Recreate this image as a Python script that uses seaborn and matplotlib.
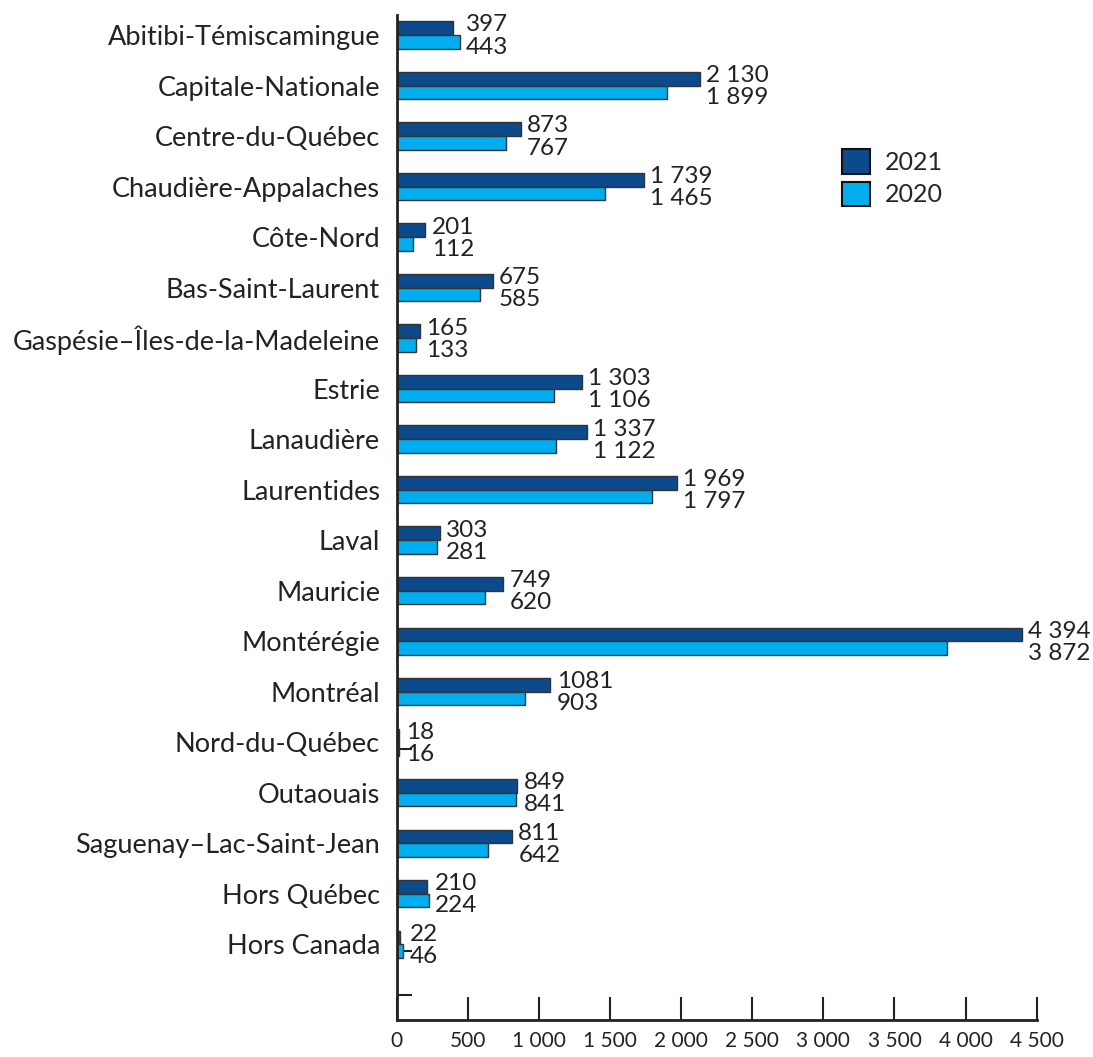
import pandas as pd
import matplotlib.pyplot as plt
import seaborn as sns
from matplotlib.patches import Patch

sns.set_theme(style="white")
plt.rcParams['font.family'] = ['Lato', 'DejaVu Sans']

# Data
regions = [
    "Abitibi-Témiscamingue", "Capitale-Nationale", "Centre-du-Québec",
    "Chaudière-Appalaches", "Côte-Nord", "Bas-Saint-Laurent",
    "Gaspésie–Îles-de-la-Madeleine", "Estrie", "Lanaudière", "Laurentides",
    "Laval", "Mauricie", "Montérégie", "Montréal", "Nord-du-Québec",
    "Outaouais", "Saguenay–Lac-Saint-Jean", "Hors Québec", "Hors Canada",
]
values_2021 = [397, 2130, 873, 1739, 201, 675, 165, 1303, 1337, 1969,
               303, 749, 4394, 1081, 18, 849, 811, 210, 22]
values_2020 = [443, 1899, 767, 1465, 112, 585, 133, 1106, 1122, 1797,
               281, 620, 3872, 903, 16, 841, 642, 224, 46]
labels_2021 = ["397", "2 130", "873", "1 739", "201", "675", "165", "1 303",
               "1 337", "1 969", "303", "749", "4 394", "1081", "18", "849",
               "811", "210", "22"]
labels_2020 = ["443", "1 899", "767", "1 465", "112", "585", "133", "1 106",
               "1 122", "1 797", "281", "620", "3 872", "903", "16", "841",
               "642", "224", "46"]
years = ["2021", "2020"]
colors = {"2021": "#0d4a8c", "2020": "#00aeef"}
xticks = [0, 500, 1000, 1500, 2000, 2500, 3000, 3500, 4000, 4500]
xtick_labels = ["0", "500", "1 000", "1 500", "2 000", "2 500", "3 000",
                "3 500", "4 000", "4 500"]

df = pd.DataFrame({
    "region": regions * 2,
    "value": values_2021 + values_2020,
    "year": ["2021"] * len(regions) + ["2020"] * len(regions),
})

fig = plt.figure(figsize=(10.93, 10.57), dpi=100)
ax = fig.add_axes([0.363, 0.035, 0.5855, 0.951])

sns.barplot(data=df, y="region", x="value", hue="year", hue_order=years,
            order=regions, palette=colors, saturation=1, orient="h",
            width=0.54, edgecolor="#333333", linewidth=1, legend=False, ax=ax)

# value labels, two stacked lines right of the longer bar
for i, (a, b) in enumerate(zip(values_2021, values_2020)):
    x = max(a, b)
    ax.annotate(labels_2021[i], (x, i - 0.07), xytext=(4.5, 0),
                textcoords="offset points", va="baseline", ha="left",
                fontsize=17.5, color="#222222")
    ax.annotate(labels_2020[i], (x, i + 0.37), xytext=(4.5, 0),
                textcoords="offset points", va="baseline", ha="left",
                fontsize=17.5, color="#222222")

ax.set_xlim(0, 4500)
ax.set_ylim(19.5, -0.4)
ax.set_xticks(xticks)
ax.set_xticklabels(xtick_labels, fontsize=15)
ax.set_yticks(range(len(regions)))
ax.set_yticklabels(regions, fontsize=19.5, color="#222222")
ax.set_yticks([i + 0.14 for i in range(len(regions))] + [19], minor=True)
ax.tick_params(axis="y", which="major", left=False, length=0, pad=12)
ax.tick_params(axis="y", which="minor", left=True, direction="in",
               length=11, width=1.5, color="#222222")
ax.tick_params(axis="x", bottom=True, direction="in", length=16.5,
               width=1.5, color="#222222", pad=8, labelcolor="#222222")
ax.set_xlabel("")
ax.set_ylabel("")
# bars cover the ticks, spines stay on top
ax.set_axisbelow(True)

for side in ["top", "right"]:
    ax.spines[side].set_visible(False)
for side in ["left", "bottom"]:
    ax.spines[side].set_linewidth(2)
    ax.spines[side].set_color("#222222")

handles = [Patch(facecolor=colors[y], edgecolor="#111111", linewidth=1.5,
                 label=y) for y in years]
ax.legend(handles=handles, loc="upper left", bbox_to_anchor=(0.695, 0.866),
          frameon=False, fontsize=18, handlelength=1.12, handleheight=1.12,
          handletextpad=0.6, labelspacing=0.3, borderpad=0,
          borderaxespad=0)

fig.savefig("out.png", dpi=100)
